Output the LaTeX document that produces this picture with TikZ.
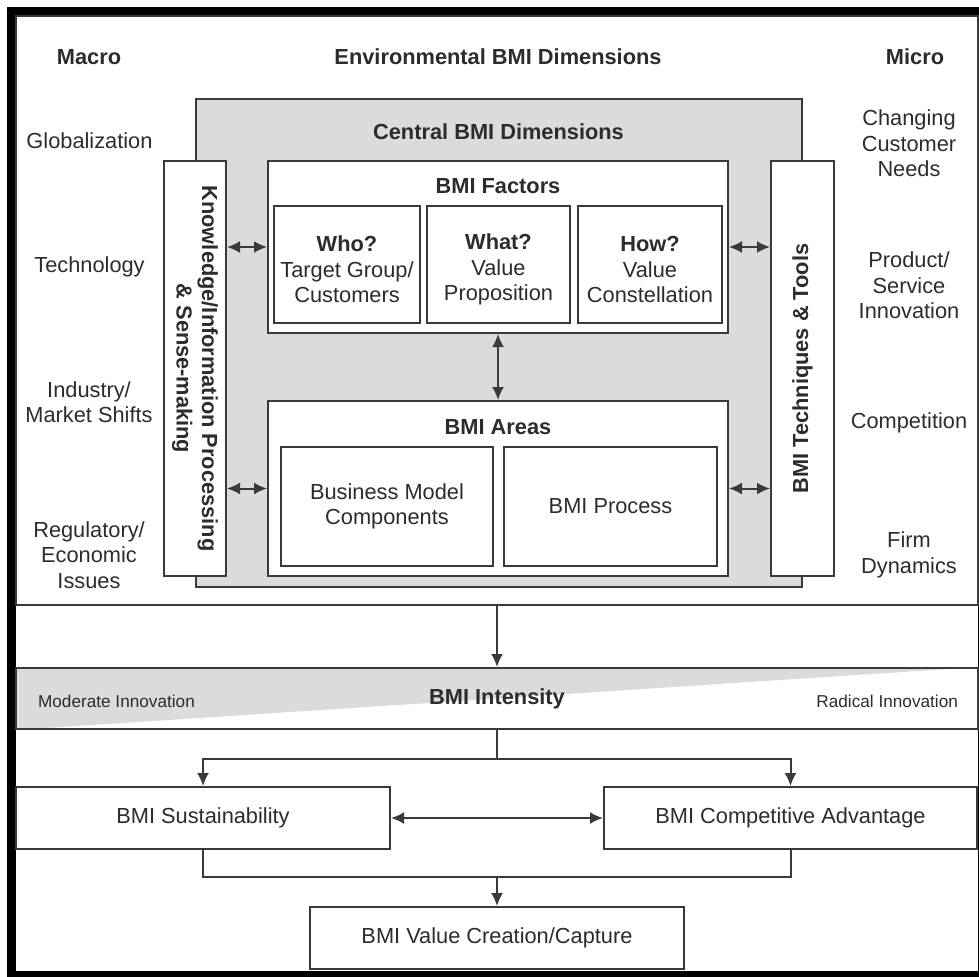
\documentclass[tikz,border=0pt]{standalone}
\usepackage{fontspec}
\setmainfont{Liberation Sans}
\usetikzlibrary{arrows.meta,calc,positioning,backgrounds}
\definecolor{linegray}{HTML}{3A3A3A}
\definecolor{textgray}{HTML}{2C2C2C}
\definecolor{fillgray}{HTML}{DBDBDD}
\tikzset{
        txt/.style = {text=textgray, align=center,
            font=\fontsize{10.9}{12.75}\selectfont},
        head/.style = {txt, font=\fontsize{10.9}{12.75}\selectfont\bfseries},
        small/.style = {txt, font=\fontsize{8.6}{10}\selectfont},
        block/.style = {draw=linegray, line width=1pt, rectangle,
            fill=white, txt},
        arrow/.style = {draw=linegray, line width=1pt,
            -{Latex[length=6.5pt,width=6pt]}},
        biarrow/.style = {draw=linegray, line width=1pt,
            {Latex[length=6.5pt,width=6pt]}-{Latex[length=6.5pt,width=6pt]}},
        line/.style = {draw=linegray, line width=1pt},
    }

\begin{document}
\begin{tikzpicture}[x=0.5pt, y=-0.5pt]
\useasboundingbox (0,0) rectangle (979,976);
\draw[line width=4.5pt] (11.5,11) rectangle (982,975.5);

% environmental dimensions
\node[draw=linegray, line width=0.8pt, minimum width=481pt, minimum height=294.5pt] (env) at (497,310.5) {};
\node[head] (macro) at (89,57) {Macro};
\node[head] (envtitle) at (498,57) {Environmental BMI Dimensions};
\node[head] (micro) at (915,57) {Micro};

\node[txt] (global) at (89.5,141) {Globalization};
\node[txt] (techno) at (89.5,267) {Technology};
\node[txt] (industry) at (89,402) {Industry/\\Market Shifts};
\node[txt] (regul) at (89,555) {Regulatory/\\Economic\\Issues};

\node[txt] (needs) at (909,143.5) {Changing\\Customer\\Needs};
\node[txt] (product) at (909,285.5) {Product/\\Service\\Innovation};
\node[txt] (compet) at (909,423) {Competition};
\node[txt] (firm) at (909,555) {Firm\\Dynamics};

% central dimensions
\node[block, fill=fillgray, minimum width=303pt, minimum height=244pt] (central) at (499,343) {};
\node[head] (centraltitle) at (498.5,132) {Central BMI Dimensions};

\node[block, minimum width=31pt, minimum height=207.5pt] (know) at (195,368.5) {};
\node[head, rotate=-90] (knowtext) at (know) {Knowledge/Information Processing\\\& Sense-making};
\node[block, minimum width=31.5pt, minimum height=207.5pt] (tools) at (802.5,368.5) {};
\node[head, rotate=90] (toolstext) at (tools) {BMI Techniques \& Tools};

\node[block, minimum width=230pt, minimum height=86pt] (factors) at (498,247) {};
\node[head] (factorstitle) at ($(factors.north)+(0,26)$) {BMI Factors};
\node[block, minimum width=72pt, minimum height=58.5pt] (who) at (347,264.5) {\textbf{\rule{0pt}{13pt}Who?}\\Target Group/\\Customers};
\node[block, minimum width=71.5pt, minimum height=58.5pt] (what) at (498.5,264.5) {\textbf{\rule{0pt}{13pt}What?}\\Value\\Proposition};
\node[block, minimum width=72pt, minimum height=58.5pt] (how) at (650,264.5) {\textbf{\rule{0pt}{13pt}How?}\\Value\\Constellation};

\node[block, minimum width=230pt, minimum height=87.5pt] (areas) at (498,488.5) {};
\node[head] (areastitle) at ($(areas.north)+(0,27)$) {BMI Areas};
\node[block, minimum width=106pt, minimum height=59.5pt] (bmc) at (387,506.5) {Business Model\\Components};
\node[block, minimum width=106.5pt, minimum height=59.5pt] (process) at (610.5,506.5) {BMI Process};

\draw[biarrow] (factors.south) -- (areas.north);
\draw[biarrow] (know.east |- factors.west) -- (factors.west);
\draw[biarrow] (know.east |- areas.west) -- (areas.west);
\draw[biarrow] (factors.east) -- (factors.east -| tools.west);
\draw[biarrow] (areas.east) -- (areas.east -| tools.west);

% intensity and outcomes
\node[draw=linegray, line width=1pt, head, minimum width=481pt, minimum height=30.5pt] (intensity) at (497,698.5) {BMI Intensity};
\begin{scope}[on background layer]
\fill[fillgray] (intensity.north west) -- (intensity.north east) -- (intensity.south west) -- cycle;
\end{scope}
\node[small, anchor=west] (moderate) at ($(intensity.west)+(16,2.5)$) {Moderate Innovation};
\node[small, anchor=east] (radical) at ($(intensity.east)+(-14,2.5)$) {Radical Innovation};
\draw[arrow] (env.south) -- (intensity.north);

\node[block, minimum width=187pt, minimum height=31pt] (sustain) at (203,818) {BMI Sustainability};
\node[block, minimum width=186.5pt, minimum height=31pt] (advantage) at (790.5,818) {BMI Competitive Advantage};
\node[block, minimum width=187pt, minimum height=31pt] (value) at (497,938) {BMI Value Creation/Capture};

\coordinate (split) at ($(intensity.south)+(0,29)$);
\coordinate (merge) at ($(value.north)+(0,-29)$);
\draw[line] (intensity.south) -- (split);
\draw[arrow] (split) -| (sustain.north);
\draw[arrow] (split) -| (advantage.north);
\draw[biarrow] (sustain.east) -- (advantage.west);
\draw[line] (sustain.south) |- (advantage.south |- merge) -- (advantage.south);
\draw[arrow] (merge) -- (value.north);
\end{tikzpicture}
\end{document}
